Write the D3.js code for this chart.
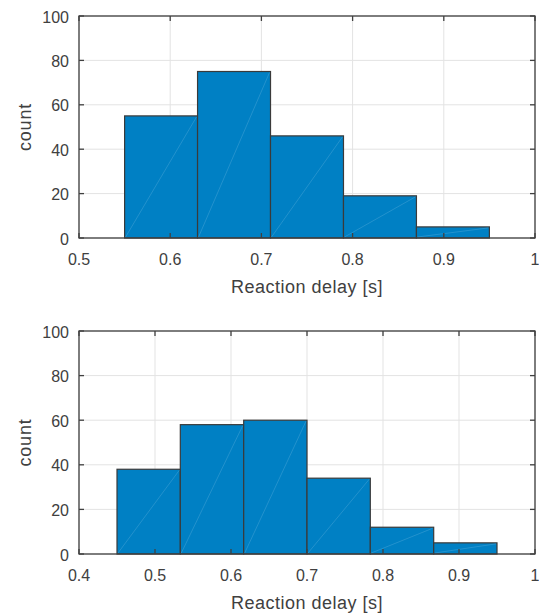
<!DOCTYPE html>
<html>
<head>
<meta charset="utf-8">
<script src="https://cdn.jsdelivr.net/npm/d3@7"></script>
<style>
  body { margin: 0; background: #fff; }
  text { font-family: Arial, "Liberation Sans", sans-serif; fill: #404040; }
</style>
</head>
<body>
<svg></svg>
<script>
//svg size
const width = 539;
const height = 613;

//data: bin edges and counts
var edgesTop = [0.55, 0.63, 0.71, 0.79, 0.87, 0.95];
var countsTop = [55, 75, 46, 19, 5];
var xTicksTop = [0.5, 0.6, 0.7, 0.8, 0.9, 1];

var edgesBottom = [0.45, 0.5333, 0.6167, 0.7, 0.7833, 0.8667, 0.95];
var countsBottom = [38, 58, 60, 34, 12, 5];
var xTicksBottom = [0.4, 0.5, 0.6, 0.7, 0.8, 0.9, 1];

var yTicks = [0, 20, 40, 60, 80, 100];

//colours
var bar_col = '#0080c4';
var edge_col = '#3a3a3a';
var grid_col = '#e3e3e3';
var axis_col = '#404040';

var svg = d3.select('svg')
    .attr('width', width)
    .attr('height', height);

//draws one histogram panel
function panel(top, bottom, xDomain, edges, counts, xTicks) {
    var left = 79, right = 535;
    var x = d3.scaleLinear().domain(xDomain).range([left, right]);
    var y = d3.scaleLinear().domain([0, 100]).range([bottom, top]);
    var g = svg.append('g');

    //grid
    g.selectAll('.gx').data(xTicks).enter().append('line')
        .attr('x1', d => x(d)).attr('x2', d => x(d))
        .attr('y1', top).attr('y2', bottom)
        .attr('stroke', grid_col).attr('stroke-width', 1);
    g.selectAll('.gy').data(yTicks).enter().append('line')
        .attr('x1', left).attr('x2', right)
        .attr('y1', d => y(d)).attr('y2', d => y(d))
        .attr('stroke', grid_col).attr('stroke-width', 1);

    //bars
    var bins = counts.map((c, i) => ({x0: edges[i], x1: edges[i + 1], c: c}));
    g.selectAll('.bar').data(bins).enter().append('rect')
        .attr('x', d => x(d.x0))
        .attr('y', d => y(d.c))
        .attr('width', d => x(d.x1) - x(d.x0))
        .attr('height', d => y(0) - y(d.c))
        .attr('fill', bar_col)
        .attr('stroke', edge_col)
        .attr('stroke-width', 1.2);

    //faint diagonal seam inside each bar
    g.selectAll('.seam').data(bins).enter().append('line')
        .attr('x1', d => x(d.x0) + 1).attr('y1', y(0) - 1)
        .attr('x2', d => x(d.x1) - 1).attr('y2', d => y(d.c) + 1)
        .attr('stroke', '#4aa6d8').attr('stroke-width', 0.6)
        .attr('opacity', 0.8);

    //box
    g.append('rect')
        .attr('x', left).attr('y', top)
        .attr('width', right - left).attr('height', bottom - top)
        .attr('fill', 'none').attr('stroke', axis_col).attr('stroke-width', 1.3);

    //ticks inward on all four sides
    var tl = 5;
    xTicks.forEach(function(t) {
        g.append('line').attr('x1', x(t)).attr('x2', x(t))
            .attr('y1', bottom).attr('y2', bottom - tl)
            .attr('stroke', axis_col).attr('stroke-width', 1.3);
        g.append('line').attr('x1', x(t)).attr('x2', x(t))
            .attr('y1', top).attr('y2', top + tl)
            .attr('stroke', axis_col).attr('stroke-width', 1.3);
        g.append('text').text(d3.format('~g')(t))
            .attr('x', x(t)).attr('y', bottom + 27)
            .attr('text-anchor', 'middle')
            .style('font-size', '16px');
    });
    yTicks.forEach(function(t) {
        g.append('line').attr('x1', left).attr('x2', left + tl)
            .attr('y1', y(t)).attr('y2', y(t))
            .attr('stroke', axis_col).attr('stroke-width', 1.3);
        g.append('line').attr('x1', right).attr('x2', right - tl)
            .attr('y1', y(t)).attr('y2', y(t))
            .attr('stroke', axis_col).attr('stroke-width', 1.3);
        g.append('text').text(t)
            .attr('x', left - 10).attr('y', y(t) + 6.5)
            .attr('text-anchor', 'end')
            .style('font-size', '16px');
    });

    //labels
    g.append('text').text('Reaction delay [s]')
        .attr('x', (left + right) / 2).attr('y', bottom + 55)
        .attr('text-anchor', 'middle')
        .style('font-size', '18px')
        .style('letter-spacing', '0.5px');
    g.append('text').text('count')
        .attr('transform', 'translate(31,' + ((top + bottom) / 2) + ') rotate(-90)')
        .attr('text-anchor', 'middle')
        .style('font-size', '18px')
        .style('letter-spacing', '0.8px');
}

panel(16, 238, [0.5, 1], edgesTop, countsTop, xTicksTop);
panel(331, 554, [0.4, 1], edgesBottom, countsBottom, xTicksBottom);
</script>
</body>
</html>
